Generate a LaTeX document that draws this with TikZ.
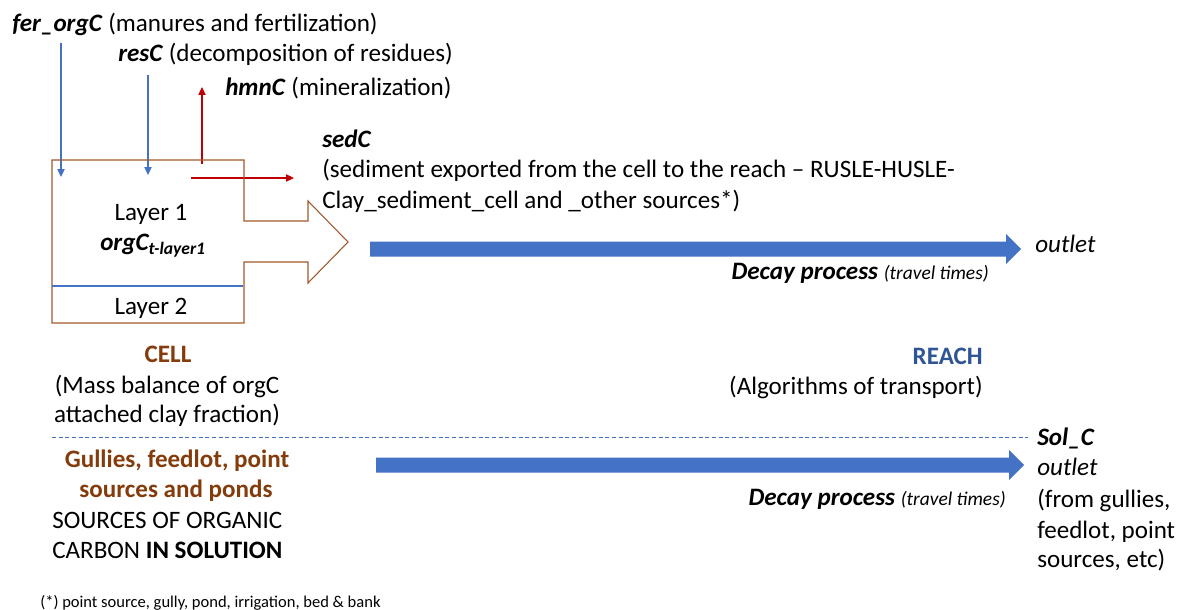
\documentclass[tikz,border=0pt]{standalone}
\usepackage{fontspec}
\setmainfont{Carlito}
\usepackage{xcolor}
\usetikzlibrary{arrows.meta}
\usetikzlibrary{calc}
\definecolor{cellbrown}{HTML}{843C0C}
\definecolor{cellline}{HTML}{A0582A}
\definecolor{reachblue}{HTML}{2F5597}
\definecolor{flowblue}{HTML}{4472C4}
\definecolor{lossred}{HTML}{C00000}
\tikzstyle{txt}=[inner sep=0pt, anchor=base west]
\tikzstyle{txtr}=[inner sep=0pt, anchor=base east]
\tikzstyle{mid}=[inner sep=0pt, anchor=base]
\tikzstyle{inflow}=[line width=0.8pt, flowblue, -{Triangle[length=6pt,width=5.5pt]}]
\tikzstyle{outflow}=[line width=0.8pt, lossred, -{Triangle[length=6pt,width=5.5pt]}]
\newcommand{\smallnote}{\fontsize{14.6}{17}\selectfont}
\newcommand{\bigFlow}[4]{
	\coordinate (#1s) at (#2,#4);
	\coordinate (#1e) at (#3,#4);
	\fill[flowblue] ($(#1s)+(0,-7.5)$) -- ($(#1e)+(-15,-7.5)$) -- ($(#1e)+(-15,-15)$) -- (#1e)
		-- ($(#1e)+(-15,15)$) -- ($(#1e)+(-15,7.5)$) -- ($(#1s)+(0,7.5)$) -- cycle;
}

\begin{document}
\begin{tikzpicture}[x=0.75pt, y=-0.75pt, font=\fontsize{18.8}{22}\selectfont]
	\useasboundingbox (0,0) rectangle (1182,610);
	% inputs and losses of the cell
	\node[txt] (fer) at (12,32) {\textbf{\textit{fer\_orgC}} (manures and fertilization)};
	\node[txt] (res) at (118,62) {\textbf{\textit{resC}} (decomposition of residues)};
	\node[txt] (hmn) at (225,95) {\textbf{\textit{hmnC}} (mineralization)};
	\node[txt] (sed) at (322,147) {\textbf{\textit{sedC}}};
	\node[txt] (sed2) at (322,177) {(sediment exported from the cell to the reach \textendash{} RUSLE-HUSLE-};
	\node[txt] (sed3) at (322,208) {Clay\_sediment\_cell and \_other sources*)};
	\coordinate (ferA) at (61,43);
	\coordinate (ferB) at (61,177);
	\coordinate (resA) at (148,75);
	\coordinate (resB) at (148,175);
	\coordinate (hmnA) at (202,164);
	\coordinate (hmnB) at (202,87);
	\coordinate (sedA) at (191,178);
	\coordinate (sedB) at (294,178);
	\draw[inflow] (ferA) -- (ferB);
	\draw[inflow] (resA) -- (resB);
	\draw[outflow] (hmnA) -- (hmnB);
	\draw[outflow] (sedA) -- (sedB);
	% cell with its outlet arrow
	\draw[cellline, line width=0.8pt] (52,160) -- (244,160) -- (244,221) -- (308,221) -- (308,201) -- (348,242)
		-- (308,283) -- (308,262) -- (244,262) -- (244,323) -- (52,323) -- cycle;
	\draw[flowblue, line width=0.8pt] (52,286) -- (243,286);
	\node[mid] (lay1) at (151,220) {Layer 1};
	\node[mid] (org) at (153,250) {\textbf{\textit{orgC\textsubscript{t-layer1}}}};
	\node[mid] (lay2) at (151,314) {Layer 2};
	% reach
	\bigFlow{sedflow}{370}{1021}{249}
	\node[txt] (out1) at (1035,252) {\textit{outlet}};
	\node[txtr] (dec1) at (989,279) {\textbf{\textit{Decay process}} {\smallnote\textit{(travel times)}}};
	\node[txtr, text=reachblue] (reach) at (983,364) {\textbf{REACH}};
	\node[txtr] (reach2) at (983,394) {(Algorithms of transport)};
	\node[mid, text=cellbrown] (cell) at (168,362) {\textbf{CELL}};
	\node[mid] (cell2) at (167,393) {(Mass balance of orgC};
	\node[mid] (cell3) at (167,422) {attached clay fraction)};
	\coordinate (sepA) at (52,437);
	\coordinate (sepB) at (1028,437);
	\draw[flowblue, line width=0.75pt, dash pattern=on 3pt off 2pt] (sepA) -- (sepB);
	% organic carbon in solution
	\node[mid, text=cellbrown] (gul1) at (177,467) {\textbf{Gullies, feedlot, point}};
	\node[mid, text=cellbrown] (gul2) at (176,497) {\textbf{sources and ponds}};
	\node[txt] (src1) at (52,528) {SOURCES OF ORGANIC};
	\node[txt] (src2) at (52,558) {CARBON \textbf{IN SOLUTION}};
	\bigFlow{solflow}{376}{1024}{465}
	\node[txtr] (dec2) at (1006,505) {\textbf{\textit{Decay process}} {\smallnote\textit{(travel times)}}};
	\node[txt] (sol) at (1037,445) {\textbf{\textit{Sol\_C}}};
	\node[txt] (sol2) at (1037,475) {\textit{outlet}};
	\node[txt] (sol3) at (1037,507) {(from gullies,};
	\node[txt] (sol4) at (1037,538) {feedlot, point};
	\node[txt] (sol5) at (1037,567) {sources, etc)};
	\node[txt, font=\fontsize{12.4}{14}\selectfont] (note) at (40,607) {(*) point source, gully, pond, irrigation, bed \& bank};
\end{tikzpicture}
\end{document}
